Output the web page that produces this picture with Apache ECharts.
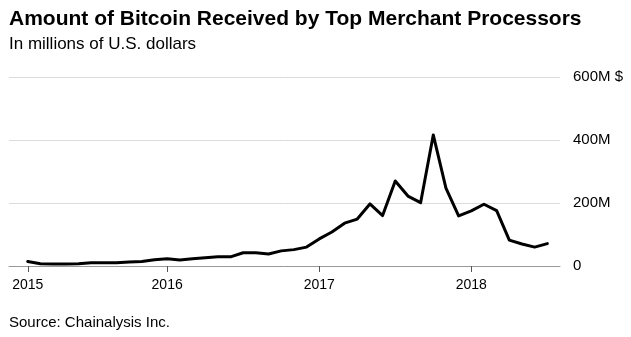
<!DOCTYPE html>
<html>
<head>
<meta charset="utf-8">
<script src="https://cdn.jsdelivr.net/npm/echarts@6/dist/echarts.min.js"></script>
<style>
html,body{margin:0;padding:0;background:#fff;}
#c{width:631px;height:337px;}
</style>
</head>
<body>
<div id="c"></div>
<script>
// Monthly data, Feb 2015 .. Jul 2018 (millions of US$)
var months = ['2015-02','2015-03','2015-04','2015-05','2015-06','2015-07','2015-08','2015-09','2015-10','2015-11','2015-12',
  '2016-01','2016-02','2016-03','2016-04','2016-05','2016-06','2016-07','2016-08','2016-09','2016-10','2016-11','2016-12',
  '2017-01','2017-02','2017-03','2017-04','2017-05','2017-06','2017-07','2017-08','2017-09','2017-10','2017-11','2017-12',
  '2018-01','2018-02','2018-03','2018-04','2018-05','2018-06','2018-07'];
var values = [14, 7, 6, 6, 7, 10, 10, 10, 13, 14, 20,
  23, 19, 23, 26, 29, 29, 42, 42, 38, 48, 52, 60,
  86, 108, 136, 149, 197, 160, 270, 222, 201, 416, 247, 159,
  175, 196, 176, 82, 70, 60, 71];
var tickIndex = [0, 11, 23, 35];
var tickLabels = ['2015', '2016', '2017', '2018'];
var yTicks = [0, 200, 400, 600];
var yLabels = ['0', '200M', '400M', '600M $'];

var chart = echarts.init(document.getElementById('c'), null, {renderer: 'canvas'});
var font = '"Liberation Sans", Arial, Helvetica, sans-serif';
chart.setOption({
  animation: false,
  backgroundColor: '#fff',
  textStyle: {fontFamily: font},
  graphic: [
    {type: 'text', left: 9, top: 9, style: {text: 'Amount of Bitcoin Received by Top Merchant Processors', font: 'bold 21px ' + font, fill: '#000'}},
    {type: 'text', left: 9, top: 36, style: {text: 'In millions of U.S. dollars', font: '17px ' + font, fill: '#000'}},
    {type: 'text', left: 9, top: 315, style: {text: 'Source: Chainalysis Inc.', font: '15px ' + font, fill: '#000'}}
  ],
  grid: {left: 9, right: 71, top: 77, bottom: 71, containLabel: false},
  xAxis: {
    type: 'value',
    min: -1.48,
    max: 42.0,
    splitLine: {show: false},
    axisLine: {show: true, lineStyle: {color: '#999', width: 1}},
    axisTick: {show: true, customValues: tickIndex, length: 6, lineStyle: {color: '#555', width: 1}},
    axisLabel: {
      customValues: tickIndex,
      margin: 12,
      fontSize: 14,
      color: '#000',
      fontFamily: font,
      formatter: function (v) {
        var k = tickIndex.indexOf(Math.round(v));
        return k >= 0 ? tickLabels[k] : '';
      }
    }
  },
  yAxis: {
    type: 'value',
    position: 'right',
    min: 0,
    max: 600,
    interval: 200,
    axisLine: {show: false},
    axisTick: {show: false},
    splitLine: {show: true, lineStyle: {color: '#dcdcdc', width: 1}},
    axisLabel: {
      margin: 13,
      fontSize: 15,
      color: '#000',
      fontFamily: font,
      formatter: function (v) {
        var k = yTicks.indexOf(v);
        return k >= 0 ? yLabels[k] : '';
      }
    }
  },
  series: [{
    type: 'line',
    data: values.map(function (v, i) { return [i, v]; }),
    symbol: 'none',
    lineStyle: {color: '#000', width: 3, join: 'round', cap: 'round'},
    z: 3
  }]
});
</script>
</body>
</html>
